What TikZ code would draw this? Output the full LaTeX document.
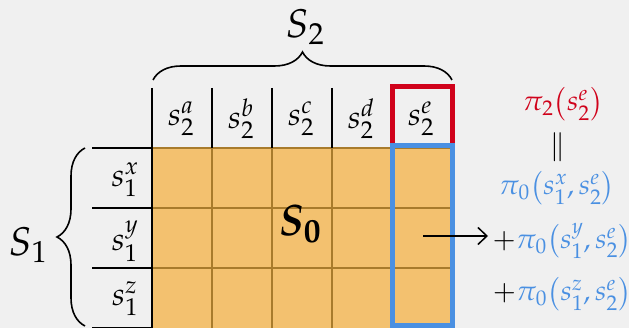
\documentclass[tikz,border=0pt]{standalone}
\usepackage{mathpazo}
\usepackage{amsmath,bm}
\usetikzlibrary{decorations.pathreplacing,arrows.meta}
\definecolor{bgc}{HTML}{F0F0F0}
\definecolor{cellc}{HTML}{F3C16F}
\definecolor{gridc}{HTML}{A87B2C}
\definecolor{redc}{HTML}{D0021B}
\definecolor{bluec}{HTML}{4A90E2}
\tikzset{
  lbl/.style={inner sep=0pt, font=\fontsize{32}{36}\selectfont},
  rlbl/.style={inner sep=0pt, font=\fontsize{28}{36}\selectfont},
  big/.style={inner sep=0pt, font=\fontsize{40}{44}\selectfont},
  huge/.style={inner sep=0pt, font=\fontsize{44}{48}\selectfont},
  blk/.style={line width=1.6pt, black},
  gline/.style={line width=1.5pt, gridc},
  bracestyle/.style={line width=1.6pt, decorate, decoration={brace, amplitude=28pt}},
}
\begin{document}
\begin{tikzpicture}[x=1pt,y=-1pt]
\useasboundingbox[fill=bgc] (0,0) rectangle (629,328);
% cells
\fill[cellc] (152,148) rectangle (452,328);
\foreach \x in {212,272,332,392} \draw[gline] (\x,148) -- (\x,328);
\foreach \y in {208,268} \draw[gline] (152,\y) -- (452,\y);
\draw[gline] (152,148) -- (452,148);
% header lines
\foreach \x in {152,212,272,332,392} \draw[blk] (\x,88) -- (\x,148);
% row lines
\foreach \y in {148,208,268,328} \draw[blk] (92,\y) -- (152,\y);
\draw[blk] (152,148) -- (152,328);
% header labels
\node[lbl] (ha) at (181,119) {$s_2^a$};
\node[lbl] (hb) at (241,119) {$s_2^b$};
\node[lbl] (hc) at (301,119) {$s_2^c$};
\node[lbl] (hd) at (361,119) {$s_2^d$};
\node[lbl] (he) at (421,119) {$s_2^e$};
% row labels
\node[lbl] (rx) at (125,180) {$s_1^x$};
\node[lbl] (ry) at (125,241) {$s_1^y$};
\node[lbl] (rz) at (125,299) {$s_1^z$};
% S0
\node[huge] (s0) at (300,224) {$\bm{S}_{\bm{0}}$};
% highlight boxes
\draw[line width=5pt, redc] (392.5,146) -- (392.5,86.5) -- (452.5,86.5) -- (452.5,146);
\draw[line width=5pt, bluec] (392.5,146) rectangle (452.5,325.5);
% braces
\coordinate (tbL) at (153,80);
\coordinate (tbR) at (452,80);
\draw[bracestyle] (tbL) -- (tbR);
\node[big] (S2) at (305,27) {$S_2$};
\coordinate (lbB) at (85,326);
\coordinate (lbT) at (85,148);
\draw[bracestyle] (lbB) -- (lbT);
\node[big] (S1) at (28,245) {$S_1$};
% arrow
\coordinate (arS) at (423,236);
\coordinate (arE) at (488,236);
\draw[line width=1.5pt, -{Straight Barb[length=9pt,width=17pt]}] (arS) -- (arE);
% right formulas
\node[rlbl, text=redc] (p2) at (563,104) {$\pi_2\bigl(s_2^e\bigr)$};
\node[rlbl] (eq) at (558,147) {$\|$};
\node[rlbl, text=bluec] (px) at (557,188) {$\pi_0\bigl(s_1^x{,}\,s_2^e\bigr)$};
\node[rlbl] (py) at (562,241) {$+{\color{bluec}\pi_0\bigl(s_1^y{,}\,s_2^e\bigr)}$};
\node[rlbl] (pz) at (562,294) {$+{\color{bluec}\pi_0\bigl(s_1^z{,}\,s_2^e\bigr)}$};
\end{tikzpicture}
\end{document}
